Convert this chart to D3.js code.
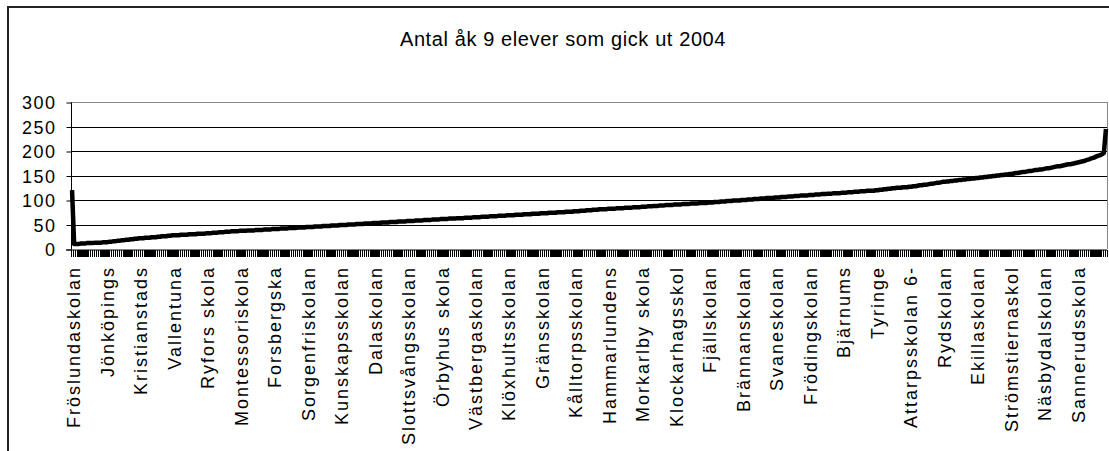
<!DOCTYPE html>
<html>
<head>
<meta charset="utf-8">
<script src="https://cdn.jsdelivr.net/npm/d3@7"></script>
<style>
  body { margin: 0; background: #fff; }
  text { font-family: "Liberation Sans", Arial, sans-serif; fill: #000; }
</style>
</head>
<body>
<div id="chart"></div>
<script>
// svg container
var width = 1109;
var height = 451;

var title = 'Antal åk 9 elever som gick ut 2004';

// every 16th school gets a label on the axis
var labelEvery = 16;
var labels = [
    'Fröslundaskolan', 'Jönköpings', 'Kristianstads', 'Vallentuna', 'Ryfors skola',
    'Montessoriskola', 'Forsbergska', 'Sorgenfriskolan', 'Kunskapsskolan', 'Dalaskolan',
    'Slottsvångsskolan', 'Örbyhus skola', 'Västbergaskolan', 'Klöxhultsskolan', 'Gränsskolan',
    'Kålltorpsskolan', 'Hammarlundens', 'Morkarlby skola', 'Klockarhagsskol', 'Fjällskolan',
    'Brännanskolan', 'Svaneskolan', 'Frödingskolan', 'Bjärnums', 'Tyringe',
    'Attarpsskolan 6-', 'Rydskolan', 'Ekillaskolan', 'Strömstiernaskol', 'Näsbydalskolan',
    'Sannerudsskola'
];

// number of pupils per school
var pupils = [
    120, 10, 10, 10, 11, 11, 11, 12, 12, 12, 12, 13, 13, 13, 13, 14,
    14, 14, 15, 15, 16, 16, 17, 17, 18, 18, 19, 19, 20, 20, 21, 21,
    22, 22, 22, 23, 23, 23, 24, 24, 24, 25, 25, 26, 26, 26, 27, 27,
    28, 28, 28, 28, 29, 29, 29, 29, 30, 30, 30, 30, 31, 31, 31, 31,
    32, 32, 32, 33, 33, 33, 34, 34, 34, 35, 35, 35, 36, 36, 36, 36,
    37, 37, 37, 37, 38, 38, 38, 38, 39, 39, 39, 39, 40, 40, 40, 40,
    41, 41, 41, 41, 42, 42, 42, 42, 43, 43, 43, 43, 44, 44, 44, 44,
    45, 45, 45, 45, 46, 46, 46, 46, 47, 47, 47, 47, 48, 48, 48, 48,
    49, 49, 49, 49, 50, 50, 50, 50, 51, 51, 51, 51, 52, 52, 52, 52,
    53, 53, 53, 53, 54, 54, 54, 54, 55, 55, 55, 55, 56, 56, 56, 56,
    57, 57, 57, 57, 58, 58, 58, 58, 59, 59, 59, 59, 60, 60, 60, 60,
    61, 61, 61, 61, 62, 62, 62, 62, 63, 63, 63, 63, 64, 64, 64, 64,
    65, 65, 65, 65, 66, 66, 66, 66, 67, 67, 67, 67, 68, 68, 68, 68,
    69, 69, 69, 69, 70, 70, 70, 70, 71, 71, 71, 71, 72, 72, 72, 72,
    73, 73, 73, 73, 74, 74, 74, 74, 75, 75, 75, 75, 76, 76, 76, 76,
    77, 77, 77, 78, 78, 78, 79, 79, 79, 80, 80, 80, 81, 81, 81, 81,
    82, 82, 82, 82, 83, 83, 83, 83, 84, 84, 84, 84, 85, 85, 85, 85,
    86, 86, 86, 87, 87, 87, 88, 88, 88, 89, 89, 89, 90, 90, 90, 90,
    91, 91, 91, 91, 92, 92, 92, 92, 93, 93, 93, 93, 94, 94, 94, 94,
    95, 95, 95, 96, 96, 96, 97, 97, 97, 98, 98, 98, 99, 99, 99, 99,
    100, 100, 100, 101, 101, 101, 102, 102, 102, 103, 103, 103, 104, 104, 104, 104,
    105, 105, 105, 106, 106, 106, 107, 107, 107, 108, 108, 108, 109, 109, 109, 109,
    110, 110, 110, 111, 111, 111, 112, 112, 112, 113, 113, 113, 114, 114, 114, 114,
    115, 115, 115, 116, 116, 116, 117, 117, 117, 118, 118, 118, 119, 119, 119, 119,
    120, 120, 121, 121, 122, 122, 123, 123, 124, 124, 125, 125, 125, 126, 126, 126,
    127, 127, 128, 128, 129, 130, 130, 131, 131, 132, 133, 133, 134, 135, 135, 136,
    137, 137, 138, 138, 139, 139, 140, 140, 141, 141, 142, 142, 143, 143, 144, 144,
    145, 145, 146, 146, 147, 147, 148, 148, 149, 149, 150, 150, 151, 151, 152, 152,
    153, 153, 154, 155, 155, 156, 157, 157, 158, 159, 159, 160, 161, 161, 162, 162,
    163, 164, 165, 165, 166, 167, 168, 169, 169, 170, 171, 172, 173, 173, 174, 175,
    176, 177, 178, 179, 180, 182, 183, 185, 186, 188, 190, 191, 193, 196, 245
];

var yTicks = [0, 50, 100, 150, 200, 250, 300];

// plot area
var plot = { left: 71, right: 1107, top: 102, bottom: 249 };

var svg = d3.select('#chart').append('svg')
    .attr('width', width)
    .attr('height', height);

svg.append('rect')
    .attr('width', width)
    .attr('height', height)
    .attr('fill', '#fff');

// outer chart border (runs off the right and bottom edge)
svg.append('rect')
    .attr('x', 8)
    .attr('y', 7)
    .attr('width', 1200)
    .attr('height', 600)
    .attr('fill', 'none')
    .attr('stroke', '#222')
    .attr('stroke-width', 2);

var x = d3.scaleLinear()
    .domain([0, pupils.length])
    .range([plot.left, plot.right]);

var y = d3.scaleLinear()
    .domain([0, 300])
    .range([plot.bottom, plot.top]);

// gridlines
svg.append('g')
    .selectAll('line')
    .data(yTicks.filter(d => d > 0))
    .enter()
    .append('line')
    .attr('x1', plot.left)
    .attr('x2', plot.right)
    .attr('y1', d => Math.round(y(d)) + 0.5)
    .attr('y2', d => Math.round(y(d)) + 0.5)
    .attr('stroke', d => d === 300 ? '#888' : '#000')
    .attr('stroke-width', 1);

// right border of plot area
svg.append('line')
    .attr('x1', plot.right + 0.5)
    .attr('x2', plot.right + 0.5)
    .attr('y1', plot.top)
    .attr('y2', plot.bottom)
    .attr('stroke', '#888');

// y axis
var leftAxis = d3.axisLeft(y)
    .tickValues(yTicks)
    .tickSize(5)
    .tickPadding(10);

var yAxis = svg.append('g')
    .attr('transform', `translate(${plot.left + 0.5}, 0.5)`)
    .call(leftAxis);
yAxis.select('.domain').remove();
yAxis.append('line')
    .attr('y1', plot.top)
    .attr('y2', plot.bottom)
    .attr('stroke', '#000');
yAxis.selectAll('text')
    .style('font-size', '18px')
    .style('letter-spacing', '1.5px')
    .attr('dy', '0.35em');

// x axis: a tick between every school
var bottomAxis = d3.axisBottom(x)
    .tickValues(d3.range(0, pupils.length + 1))
    .tickSize(7)
    .tickFormat('');

var xAxis = svg.append('g')
    .attr('transform', `translate(0, ${plot.bottom + 0.5})`)
    .call(bottomAxis);
xAxis.select('.domain').attr('d', `M${plot.left - 5},0.5H${plot.right}`);
xAxis.selectAll('.tick line')
    .style('stroke', '#000')
    .style('stroke-width', '1.5px')
    .style('shape-rendering', 'crispEdges');

// category labels
svg.append('g')
    .selectAll('text')
    .data(labels)
    .enter()
    .append('text')
    .attr('transform', (d, i) => `translate(${x(i * labelEvery + 0.5)}, 266) rotate(-90)`)
    .attr('text-anchor', 'end')
    .attr('dy', '0.45em')
    .style('font-size', '18px')
    .style('letter-spacing', '2px')
    .text(d => d);

// the line
var line = d3.line()
    .x((d, i) => x(i + 0.5))
    .y(d => y(d));

svg.append('path')
    .datum(pupils)
    .attr('d', line)
    .attr('fill', 'none')
    .attr('stroke', '#000')
    .attr('stroke-width', 4.5)
    .attr('stroke-linejoin', 'round');

// title
svg.append('text')
    .attr('x', 563)
    .attr('y', 46)
    .attr('text-anchor', 'middle')
    .style('font-size', '20px')
    .style('letter-spacing', '0.6px')
    .text(title);
</script>
</body>
</html>
